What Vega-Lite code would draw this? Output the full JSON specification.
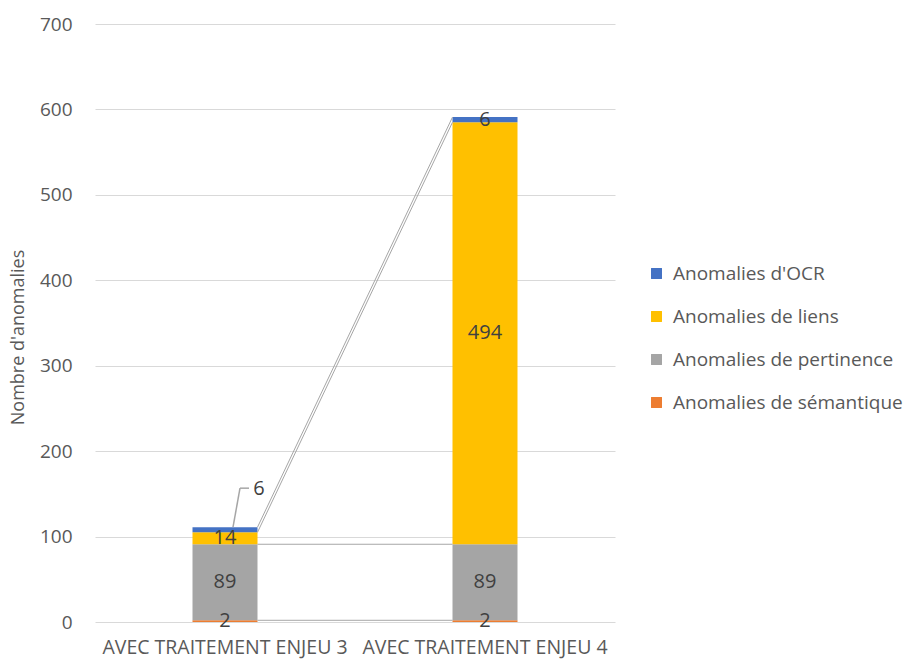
{
  "$schema": "https://vega.github.io/schema/vega-lite/v6.json",
  "width": 520,
  "height": 598,
  "autosize": {"type": "none"},
  "padding": {"left": 95, "top": 24, "right": 289, "bottom": 37},
  "background": "white",
  "config": {"view": {"stroke": null}, "font": "Open Sans"},
  "data": {"values": [
    {"cat": "AVEC TRAITEMENT ENJEU 3", "serie": "Anomalies de sémantique", "ordre": 1, "value": 2},
    {"cat": "AVEC TRAITEMENT ENJEU 3", "serie": "Anomalies de pertinence", "ordre": 2, "value": 89},
    {"cat": "AVEC TRAITEMENT ENJEU 3", "serie": "Anomalies de liens", "ordre": 3, "value": 14},
    {"cat": "AVEC TRAITEMENT ENJEU 3", "serie": "Anomalies d'OCR", "ordre": 4, "value": 6},
    {"cat": "AVEC TRAITEMENT ENJEU 4", "serie": "Anomalies de sémantique", "ordre": 1, "value": 2},
    {"cat": "AVEC TRAITEMENT ENJEU 4", "serie": "Anomalies de pertinence", "ordre": 2, "value": 89},
    {"cat": "AVEC TRAITEMENT ENJEU 4", "serie": "Anomalies de liens", "ordre": 3, "value": 494},
    {"cat": "AVEC TRAITEMENT ENJEU 4", "serie": "Anomalies d'OCR", "ordre": 4, "value": 6}
  ]},
  "transform": [
    {"window": [{"op": "sum", "field": "value", "as": "cum"}], "groupby": ["cat"], "sort": [{"field": "ordre", "order": "ascending"}], "frame": [null, 0]},
    {"joinaggregate": [{"op": "max", "field": "cum", "as": "total"}], "groupby": ["cat"]}
  ],
  "encoding": {
    "x": {"field": "cat", "type": "nominal", "sort": null,
      "scale": {"paddingInner": 0.75, "paddingOuter": 0.375},
      "axis": {"title": null, "labelAngle": 0, "labelFontSize": 19.5, "labelLimit": 0, "labelColor": "#595959", "domain": false, "ticks": false, "labelPadding": 16, "labelFont": "Open Sans"}}
  },
  "resolve": {"scale": {"xOffset": "independent"}},
  "layer": [
    {
      "mark": {"type": "bar"},
      "encoding": {
        "y": {"field": "value", "type": "quantitative", "stack": "zero",
          "scale": {"domain": [0, 700]},
          "axis": {"values": [0,100,200,300,400,500,600,700], "title": "Nombre d'anomalies", "titleFontSize": 18, "titleFontWeight": "normal", "titleColor": "#595959", "titlePadding": 12, "titleY": 313, "labelFontSize": 19, "labelColor": "#595959", "labelPadding": 23, "domain": false, "ticks": false, "gridColor": "#d9d9d9", "gridWidth": 1}},
        "color": {"field": "serie", "type": "nominal",
          "scale": {"domain": ["Anomalies d'OCR", "Anomalies de liens", "Anomalies de pertinence", "Anomalies de sémantique"], "range": ["#4472C4", "#FFC000", "#A5A5A5", "#ED7D31"]},
          "legend": {"title": null, "orient": "none", "legendX": 552, "legendY": 240, "labelFontSize": 19, "labelLimit": 0, "labelColor": "#595959", "symbolType": "square", "symbolSize": 120, "symbolStrokeWidth": 0, "rowPadding": 23, "labelOffset": 7}},
        "order": {"field": "ordre", "type": "quantitative", "sort": "ascending"}
      }
    },
    {
      "mark": {"type": "line", "color": "#a6a6a6", "strokeWidth": 1},
      "encoding": {
        "y": {"field": "cum", "type": "quantitative"},
        "xOffset": {"field": "cat", "type": "nominal", "sort": null, "scale": {"type": "point", "padding": 0, "range": [65, 0]}},
        "detail": {"field": "serie"}
      }
    },
    {
      "transform": [{"filter": "datum.serie === \"Anomalies d'OCR\" && datum.total < 200"}],
      "mark": {"type": "rule", "color": "#a6a6a6", "strokeWidth": 1.5, "xOffset": 8, "x2Offset": 15, "y2Offset": -39},
      "encoding": {
        "x2": {"field": "cat"},
        "y": {"field": "cum", "type": "quantitative"},
        "y2": {"field": "cum"}
      }
    },
    {
      "transform": [{"filter": "datum.serie === \"Anomalies d'OCR\" && datum.total < 200"}],
      "mark": {"type": "rule", "color": "#a6a6a6", "strokeWidth": 1.5, "xOffset": 15, "x2Offset": 24, "yOffset": -39, "y2Offset": -39},
      "encoding": {
        "x2": {"field": "cat"},
        "y": {"field": "cum", "type": "quantitative"},
        "y2": {"field": "cum"}
      }
    },
    {
      "transform": [{"filter": "!(datum.serie === \"Anomalies d'OCR\" && datum.total < 200)"}],
      "mark": {"type": "text", "fontSize": 20, "color": "#404040", "baseline": "middle"},
      "encoding": {
        "y": {"field": "value", "type": "quantitative", "stack": "zero", "bandPosition": 0.5},
        "text": {"field": "value", "type": "quantitative"},
        "order": {"field": "ordre", "type": "quantitative", "sort": "ascending"},
        "detail": {"field": "serie"}
      }
    },
    {
      "transform": [{"filter": "datum.serie === \"Anomalies d'OCR\" && datum.total < 200"}],
      "mark": {"type": "text", "fontSize": 20, "color": "#404040", "baseline": "middle", "dx": 34, "dy": -38},
      "encoding": {
        "y": {"field": "cum", "type": "quantitative"},
        "text": {"field": "value", "type": "quantitative"}
      }
    }
  ]
}
